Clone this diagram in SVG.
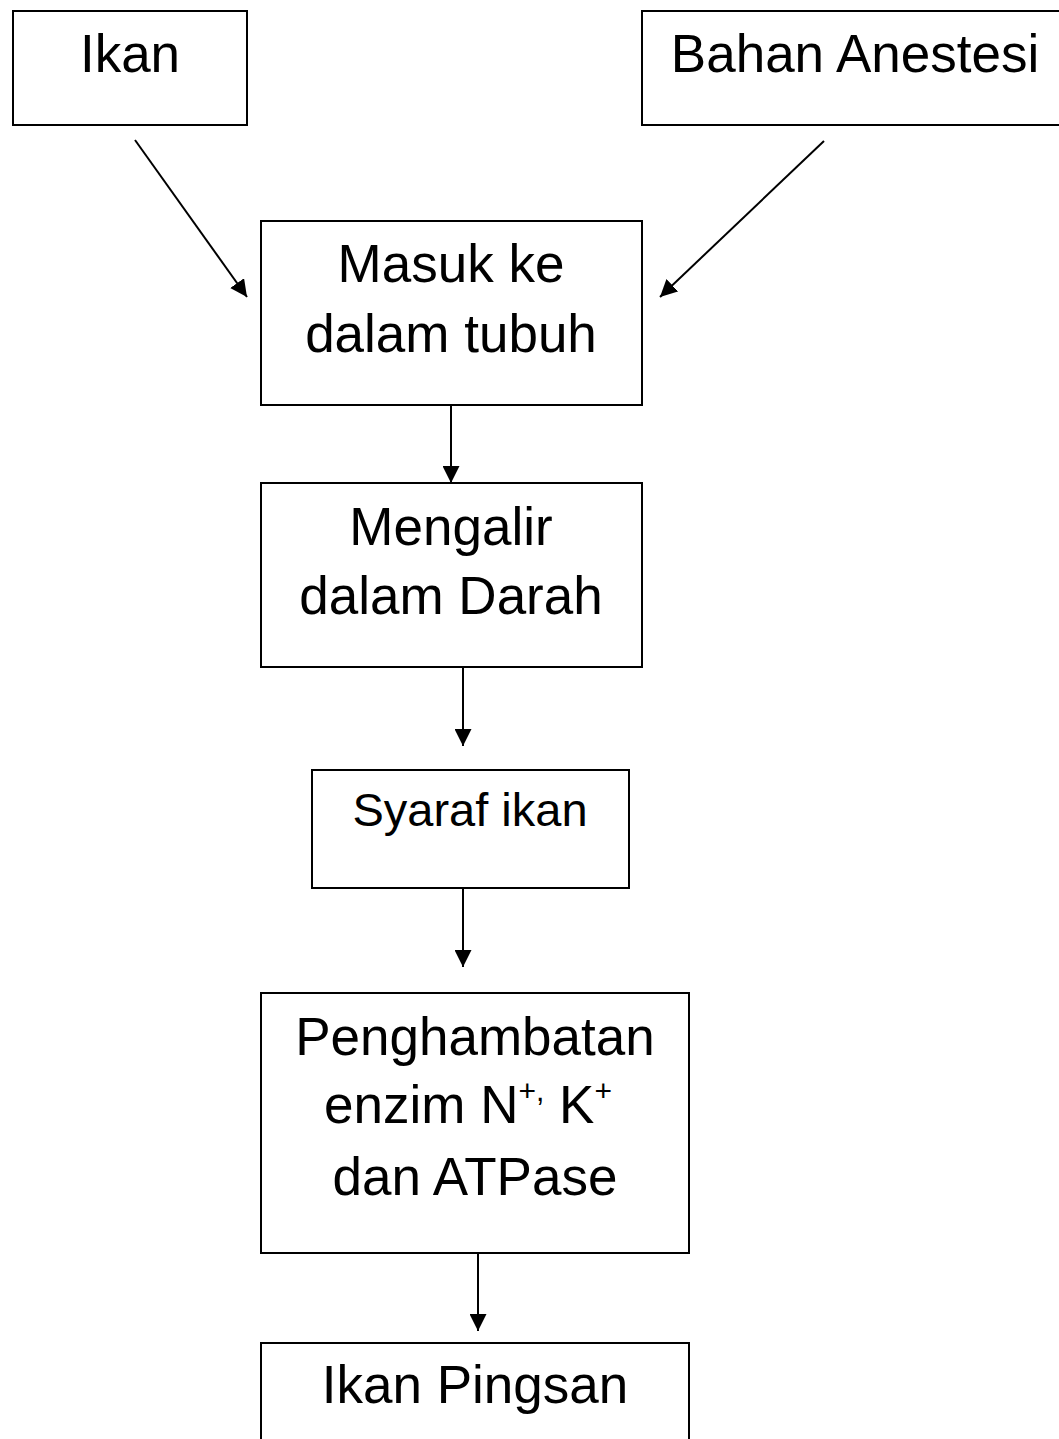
<svg xmlns="http://www.w3.org/2000/svg" width="1059" height="1439" viewBox="0 0 1059 1439">
<defs>
<marker id="ah" viewBox="0 0 10 10" refX="10" refY="5" markerWidth="17" markerHeight="17" markerUnits="userSpaceOnUse" orient="auto">
<path d="M0,0 L10,5 L0,10 z" fill="#000"/>
</marker>
<style>
.box{fill:#fff;stroke:#000;stroke-width:2}
.t{font-family:"Liberation Sans",Arial,sans-serif;font-size:53px;fill:#000;text-anchor:middle}
.c{stroke:#000;stroke-width:2;fill:none;marker-end:url(#ah)}
</style>
</defs>
<rect width="1059" height="1439" fill="#fff"/>
<g id="ikan"><rect class="box" x="13" y="11" width="234" height="114"/><text class="t" x="130" y="72">Ikan</text></g>
<g id="bahan"><rect class="box" x="642" y="11" width="430" height="114"/><text class="t" x="855" y="72">Bahan Anestesi</text></g>
<g id="masuk"><rect class="box" x="261" y="221" width="381" height="184"/><text class="t" x="451" y="282">Masuk ke</text><text class="t" x="451" y="352">dalam tubuh</text></g>
<g id="mengalir"><rect class="box" x="261" y="483" width="381" height="184"/><text class="t" x="451" y="545">Mengalir</text><text class="t" x="451" y="614">dalam Darah</text></g>
<g id="syaraf"><rect class="box" x="312" y="770" width="317" height="118"/><text class="t" x="470" y="826" style="font-size:47px">Syaraf ikan</text></g>
<g id="penghambatan"><rect class="box" x="261" y="993" width="428" height="260"/><text class="t" x="475" y="1055">Penghambatan</text><text class="t" x="468" y="1123">enzim N<tspan dy="-22" font-size="30">+,</tspan><tspan dy="22"> K</tspan><tspan dy="-22" font-size="30">+</tspan></text><text class="t" x="475" y="1195">dan ATPase</text></g>
<g id="pingsan"><rect class="box" x="261" y="1343" width="428" height="120"/><text class="t" x="475" y="1403">Ikan Pingsan</text></g>
<g id="connectors">
<line class="c" x1="135" y1="140" x2="247" y2="297"/>
<line class="c" x1="824" y1="141" x2="660" y2="297"/>
<line class="c" x1="451" y1="405" x2="451" y2="483"/>
<line class="c" x1="463" y1="667" x2="463" y2="746"/>
<line class="c" x1="463" y1="888" x2="463" y2="967"/>
<line class="c" x1="478" y1="1253" x2="478" y2="1331"/>
</g>
</svg>
